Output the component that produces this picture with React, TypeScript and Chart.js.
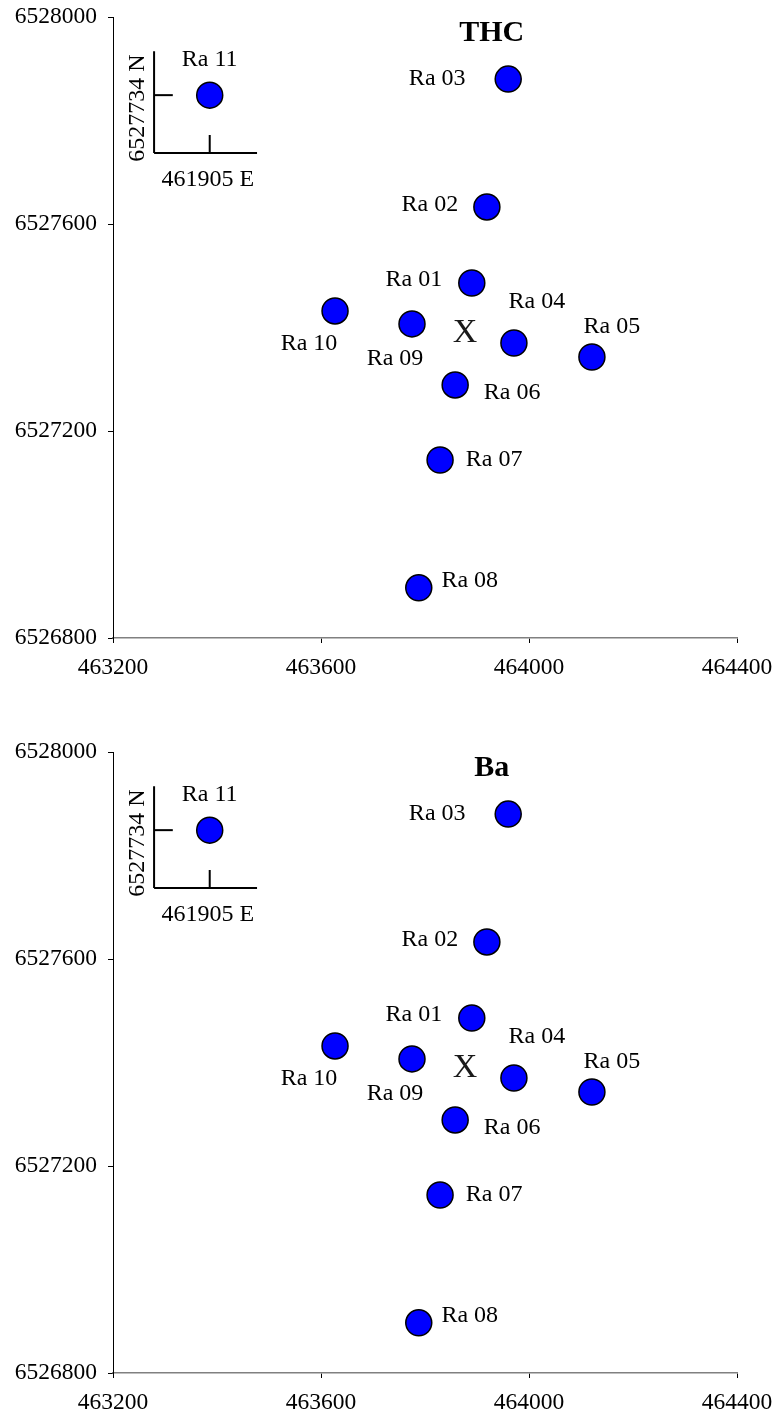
import React, { useEffect, useRef } from "react";
import { Chart, registerables } from "chart.js";

Chart.register(...registerables);

// ---- data ----
const stations = ["Ra 01", "Ra 02", "Ra 03", "Ra 04", "Ra 05", "Ra 06", "Ra 07", "Ra 08", "Ra 09", "Ra 10", "Ra 11"];
const eastings = [463890, 463919, 463960, 463971, 464121, 463858, 463829, 463788, 463775, 463627, 463386];
const northings = [6527486, 6527633, 6527880, 6527370, 6527343, 6527289, 6527144, 6526897, 6527407, 6527432, 6527849];
const panelTitles = ["THC", "Ba"];
const xTickValues = [463200, 463600, 464000, 464400];
const yTickValues = [6526800, 6527200, 6527600, 6528000];
const sourceEasting = [463877];
const sourceNorthing = [6527389];
// inset (Ra 11 lies far off the map: small locator axes)
const insetVertX = [463279, 463279];
const insetVertY = [6527934, 6527737];
const insetHorizX = [463279, 463477];
const insetHorizY = [6527737, 6527737];
const insetYTickX = [463279, 463315];
const insetYTickY = [6527849, 6527849];
const insetXTickX = [463386, 463386];
const insetXTickY = [6527772, 6527737];
const insetNorthLabel = "6527734 N";
const insetEastLabel = "461905 E";

// ---- styling (pixel offsets of the text labels from their points) ----
const labelOffsets: [number, number][] = [
  [-58, -3], [-57, -2], [-71, 0], [23, -41], [20, -30], [57, 8],
  [54, 0], [51, -7], [-17, 35], [-26, 33], [0, -35],
];

const SERIF = '"Liberation Serif", "Times New Roman", serif';

function seg(xs: number[], ys: number[]) {
  return {
    type: "line" as const,
    data: xs.map((x, i) => ({ x, y: ys[i] })),
    borderColor: "#000",
    borderWidth: 2,
    pointRadius: 0,
    fill: false,
    tension: 0,
  };
}

function Panel({ title, top }: { title: string; top: number }) {
  const ref = useRef<HTMLCanvasElement | null>(null);
  useEffect(() => {
    if (!ref.current) return;
    const annot = {
      id: "annot",
      afterDatasetsDraw(chart: any) {
        const ctx = chart.ctx as CanvasRenderingContext2D;
        const xs = chart.scales.x;
        const ys = chart.scales.y;
        const meta = chart.getDatasetMeta(0);
        ctx.save();
        ctx.fillStyle = "#000";
        ctx.textAlign = "center";
        ctx.textBaseline = "middle";
        ctx.font = `24px ${SERIF}`;
        meta.data.forEach((el: any, i: number) => {
          ctx.fillText(stations[i], el.x + labelOffsets[i][0], el.y + labelOffsets[i][1]);
        });
        // inset labels relative to Ra 11
        const p11 = meta.data[10];
        ctx.fillText(insetEastLabel, p11.x - 2, p11.y + 85);
        ctx.save();
        ctx.translate(p11.x - 72, p11.y + 13);
        ctx.rotate(-Math.PI / 2);
        ctx.fillText(insetNorthLabel, 0, 0);
        ctx.restore();
        // source marker X
        ctx.font = `34px ${SERIF}`;
        ctx.fillStyle = "#1a1a1a";
        ctx.fillText("X", xs.getPixelForValue(sourceEasting[0]), ys.getPixelForValue(sourceNorthing[0]));
        // title
        const ca = chart.chartArea;
        ctx.fillStyle = "#000";
        ctx.font = `bold 30px ${SERIF}`;
        ctx.fillText(title, ca.left + 0.607 * (ca.right - ca.left), ca.top + 16);
        ctx.restore();
      },
    };
    const chart = new Chart(ref.current, {
      type: "scatter",
      data: {
        datasets: [
          {
            type: "scatter",
            data: eastings.map((x, i) => ({ x, y: northings[i] })),
            backgroundColor: "#0000FF",
            borderColor: "#000",
            borderWidth: 1.5,
            pointRadius: 13,
            pointHoverRadius: 13,
          } as any,
          seg(insetVertX, insetVertY),
          seg(insetHorizX, insetHorizY),
          seg(insetYTickX, insetYTickY),
          seg(insetXTickX, insetXTickY),
        ],
      },
      options: {
        animation: false,
        responsive: false,
        events: [],
        layout: { padding: { left: 0, right: 37, top: 17, bottom: 0 } },
        plugins: { legend: { display: false }, tooltip: { enabled: false }, title: { display: false } },
        scales: {
          x: {
            type: "linear",
            min: xTickValues[0],
            max: xTickValues[xTickValues.length - 1],
            afterBuildTicks: (s: any) => { s.ticks = xTickValues.map((v) => ({ value: v })); },
            ticks: { callback: (v: any) => String(v), font: { family: SERIF, size: 23.5 }, color: "#000", padding: 11, maxRotation: 0, autoSkip: false },
            grid: { drawOnChartArea: false, drawTicks: true, tickLength: 5, color: "#000" },
            border: { display: true, color: "#808080", width: 1.5 },
            afterFit: (s: any) => { s.height = 43; s.paddingLeft = 0; s.paddingRight = 0; },
          },
          y: {
            type: "linear",
            min: yTickValues[0],
            max: yTickValues[yTickValues.length - 1],
            afterBuildTicks: (s: any) => { s.ticks = yTickValues.map((v) => ({ value: v })); },
            ticks: { callback: (v: any) => String(v), font: { family: SERIF, size: 23.5 }, color: "#000", padding: 11, autoSkip: false },
            grid: { drawOnChartArea: false, drawTicks: true, tickLength: 5, color: "#000" },
            border: { display: true, color: "#000", width: 1 },
            afterFit: (s: any) => { s.width = 113; s.paddingTop = 0; s.paddingBottom = 0; },
          },
        },
      } as any,
      plugins: [annot],
    });
    return () => chart.destroy();
  }, [title]);
  return (
    <canvas
      ref={ref}
      width={774}
      height={681}
      style={{ position: "absolute", left: 0, top, width: 774, height: 681, display: "block" }}
    />
  );
}

export default function App() {
  return (
    <div style={{ position: "absolute", left: 0, top: 0, width: 774, height: 1416, background: "#fff" }}>
      <Panel title={panelTitles[0]} top={0} />
      <Panel title={panelTitles[1]} top={735} />
    </div>
  );
}
